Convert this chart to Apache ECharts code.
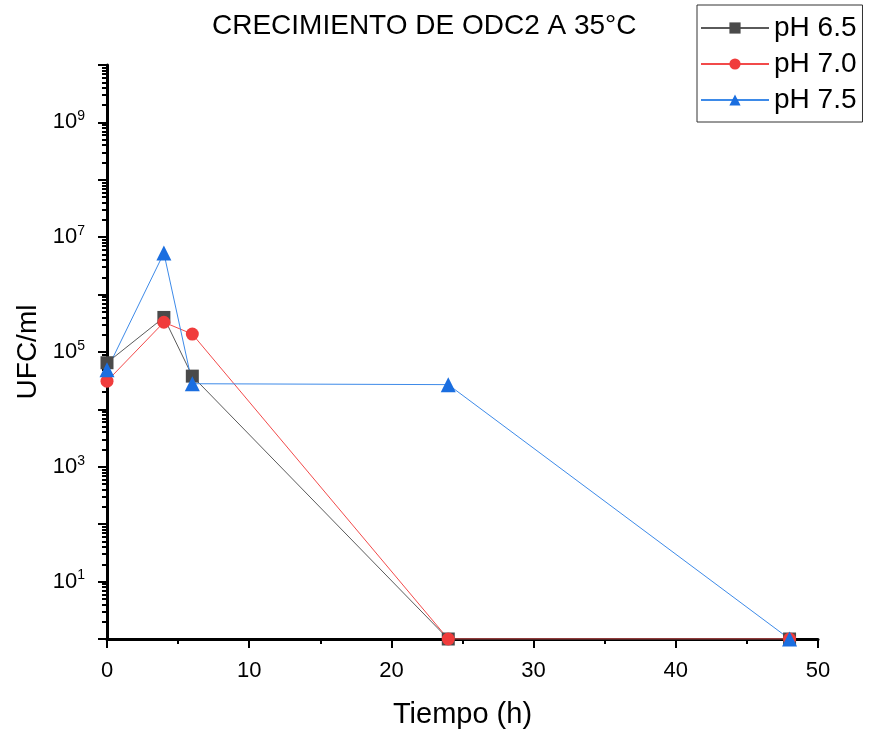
<!DOCTYPE html>
<html>
<head>
<meta charset="utf-8">
<script src="https://cdn.jsdelivr.net/npm/echarts@6/dist/echarts.min.js"></script>
<style>
  html, body { margin: 0; padding: 0; background: #fff; }
  #chart { width: 870px; height: 736px; }
</style>
</head>
<body>
<div id="chart"></div>
<script>
const tiempo = [0, 4, 6, 24, 48];
const ph65 = [6.5e4, 4.0e5, 3.8e4, 1, 1];
const ph70 = [3.1e4, 3.3e5, 2.05e5, 1, 1];
const ph75 = [4.9e4, 5.3e6, 2.8e4, 2.7e4, 1];

const yLabelValues = [1e1, 1e3, 1e5, 1e7, 1e9];
const yMajorTicks = [1, 1e1, 1e2, 1e3, 1e4, 1e5, 1e6, 1e7, 1e8, 1e9, 1e10];
// minor ticks 2..9 per decade
const yMinorTicks = [];
for (let e = 0; e < 10; e++) {
  for (let m = 2; m <= 9; m++) yMinorTicks.push(m * Math.pow(10, e));
}

const FONT = "Liberation Sans";

const chart = echarts.init(document.getElementById("chart"));

const pairs = (ys) => tiempo.map((x, i) => [x, ys[i]]);

const option = {
  animation: false,
  textStyle: { fontFamily: FONT },
  title: {
    text: "CRECIMIENTO DE ODC2 A 35°C",
    left: 207,
    top: 7,
    textStyle: { fontFamily: FONT, fontSize: 28, fontWeight: "normal", color: "#000" },
  },
  legend: {
    orient: "vertical",
    left: 697,
    top: 5,
    padding: [9, 6, 8, 3],
    itemGap: 8,
    itemWidth: 68,
    itemHeight: 14,
    borderColor: "#333",
    borderWidth: 1,
    borderRadius: 0,
    textStyle: { fontFamily: FONT, fontSize: 28, color: "#000" },
    data: ["pH 6.5", "pH 7.0", "pH 7.5"],
  },
  grid: {
    left: 107,
    right: 52,
    top: 65,
    bottom: 97,
    containLabel: false,
    outerBoundsMode: "none",
  },
  xAxis: {
    type: "value",
    min: 0,
    max: 50,
    interval: 10,
    name: "Tiempo (h)",
    nameLocation: "middle",
    nameGap: 61,
    nameTextStyle: { fontFamily: FONT, fontSize: 29, color: "#000" },
    axisLine: { lineStyle: { color: "#000", width: 3 } },
    axisTick: { length: 9, lineStyle: { color: "#000", width: 2 } },
    minorTick: { show: true, splitNumber: 2, length: 5, lineStyle: { color: "#000", width: 2 } },
    axisLabel: { fontFamily: FONT, fontSize: 22, color: "#000", margin: 21 },
    splitLine: { show: false },
  },
  yAxis: [
    {
      type: "log",
      logBase: 10,
      min: 1,
      max: 1e10,
      name: "UFC/ml",
      nameLocation: "middle",
      nameGap: 65,
      nameRotate: 90,
      nameTextStyle: { fontFamily: FONT, fontSize: 28, color: "#000" },
      axisLine: { show: true, lineStyle: { color: "#000", width: 3 } },
      axisTick: { length: 9, customValues: yMajorTicks, lineStyle: { color: "#000", width: 2 } },
      axisLabel: {
        customValues: yLabelValues,
        margin: 22,
        formatter: (v) => "{b|10}{s|" + Math.round(Math.log10(v)) + "}",
        rich: {
          b: { fontFamily: FONT, fontSize: 22, color: "#000" },
          s: { fontFamily: FONT, fontSize: 14, color: "#000", padding: [0, 0, 12, 0] },
        },
      },
      splitLine: { show: false },
    },
    {
      type: "log",
      logBase: 10,
      min: 1,
      max: 1e10,
      position: "left",
      axisLine: { show: false },
      axisTick: { length: 5, customValues: yMinorTicks, lineStyle: { color: "#000", width: 2 } },
      axisLabel: { show: false },
      splitLine: { show: false },
    },
  ],
  series: [
    {
      name: "pH 6.5",
      type: "line",
      data: pairs(ph65),
      symbol: "rect",
      symbolSize: 13,
      itemStyle: { color: "#4a4a4a" },
      lineStyle: { color: "#5a5a5a", width: 1 },
    },
    {
      name: "pH 7.0",
      type: "line",
      data: pairs(ph70),
      symbol: "circle",
      symbolSize: 13,
      itemStyle: { color: "#f03c3c" },
      lineStyle: { color: "#f24a4a", width: 1 },
    },
    {
      name: "pH 7.5",
      type: "line",
      data: pairs(ph75),
      symbol: "triangle",
      symbolSize: 15,
      itemStyle: { color: "#1a6ee0" },
      lineStyle: { color: "#3d8ae8", width: 1 },
    },
  ],
};

chart.setOption(option);
</script>
</body>
</html>
